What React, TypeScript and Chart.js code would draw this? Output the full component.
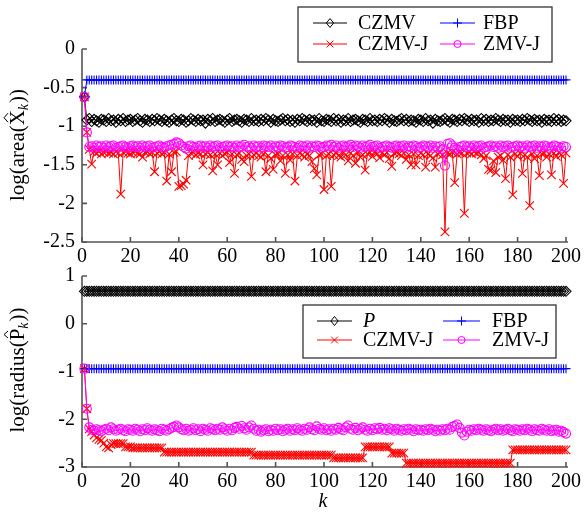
import { useEffect, useRef } from "react";
import { Chart, registerables } from "chart.js";
Chart.register(...registerables);

const FONT = '"Liberation Serif", "Times New Roman", serif';

const K = Array.from({ length: 200 }, (_, i) => i + 1);
const X_TICKS = [0, 20, 40, 60, 80, 100, 120, 140, 160, 180, 200];

// ---------- top panel: log(area(X_k)) ----------
const czmvArea = [
  -0.62, -0.92, -0.90, -0.94, -0.91, -0.93, -0.95, -0.91, -0.92, -0.94,
  -0.90, -0.93, -0.92, -0.95, -0.91, -0.93, -0.90, -0.94, -0.92, -0.91,
  -0.94, -0.92, -0.90, -0.93, -0.95, -0.91, -0.92, -0.94, -0.91, -0.93,
  -0.90, -0.92, -0.94, -0.91, -0.93, -0.95, -0.92, -0.90, -0.93, -0.94,
  -0.91, -0.92, -0.95, -0.93, -0.90, -0.92, -0.94, -0.91, -0.93, -0.92,
  -0.96, -0.91, -0.93, -0.90, -0.94, -0.92, -0.91, -0.93, -0.95, -0.92,
  -0.90, -0.94, -0.92, -0.91, -0.93, -0.95, -0.91, -0.92, -0.94, -0.90,
  -0.93, -0.92, -0.94, -0.91, -0.93, -0.90, -0.92, -0.95, -0.91, -0.93,
  -0.94, -0.92, -0.90, -0.93, -0.91, -0.94, -0.92, -0.95, -0.91, -0.93,
  -0.90, -0.92, -0.94, -0.91, -0.93, -0.92, -0.95, -0.90, -0.93, -0.94,
  -0.91, -0.92, -0.94, -0.90, -0.93, -0.91, -0.95, -0.92, -0.93, -0.90,
  -0.94, -0.92, -0.91, -0.93, -0.95, -0.91, -0.92, -0.94, -0.90, -0.93,
  -0.92, -0.94, -0.91, -0.93, -0.90, -0.92, -0.95, -0.91, -0.93, -0.94,
  -0.92, -0.90, -0.93, -0.91, -0.94, -0.92, -0.93, -0.95, -0.91, -0.92,
  -0.94, -0.90, -0.93, -0.92, -0.96, -0.91, -0.93, -0.94, -0.92, -0.90,
  -0.93, -0.95, -0.91, -0.92, -0.94, -0.91, -0.93, -0.90, -0.92, -0.94,
  -0.91, -0.93, -0.92, -0.95, -0.90, -0.93, -0.91, -0.94, -0.92, -0.93,
  -0.90, -0.92, -0.94, -0.91, -0.93, -0.92, -0.95, -0.91, -0.93, -0.92,
  -0.94, -0.91, -0.93, -0.90, -0.92, -0.94, -0.91, -0.93, -0.92, -0.95,
  -0.91, -0.93, -0.92, -0.94, -0.90, -0.93, -0.91, -0.94, -0.92, -0.93,
];

const fbpArea = [
  -0.62, -0.40, -0.40, -0.40, -0.40, -0.40, -0.40, -0.40, -0.40, -0.40,
  -0.40, -0.40, -0.40, -0.40, -0.40, -0.40, -0.40, -0.40, -0.40, -0.40,
  -0.40, -0.40, -0.40, -0.40, -0.40, -0.40, -0.40, -0.40, -0.40, -0.40,
  -0.40, -0.40, -0.40, -0.40, -0.40, -0.40, -0.40, -0.40, -0.40, -0.40,
  -0.40, -0.40, -0.40, -0.40, -0.40, -0.40, -0.40, -0.40, -0.40, -0.40,
  -0.40, -0.40, -0.40, -0.40, -0.40, -0.40, -0.40, -0.40, -0.40, -0.40,
  -0.40, -0.40, -0.40, -0.40, -0.40, -0.40, -0.40, -0.40, -0.40, -0.40,
  -0.40, -0.40, -0.40, -0.40, -0.40, -0.40, -0.40, -0.40, -0.40, -0.40,
  -0.40, -0.40, -0.40, -0.40, -0.40, -0.40, -0.40, -0.40, -0.40, -0.40,
  -0.40, -0.40, -0.40, -0.40, -0.40, -0.40, -0.40, -0.40, -0.40, -0.40,
  -0.40, -0.40, -0.40, -0.40, -0.40, -0.40, -0.40, -0.40, -0.40, -0.40,
  -0.40, -0.40, -0.40, -0.40, -0.40, -0.40, -0.40, -0.40, -0.40, -0.40,
  -0.40, -0.40, -0.40, -0.40, -0.40, -0.40, -0.40, -0.40, -0.40, -0.40,
  -0.40, -0.40, -0.40, -0.40, -0.40, -0.40, -0.40, -0.40, -0.40, -0.40,
  -0.40, -0.40, -0.40, -0.40, -0.40, -0.40, -0.40, -0.40, -0.40, -0.40,
  -0.40, -0.40, -0.40, -0.40, -0.40, -0.40, -0.40, -0.40, -0.40, -0.40,
  -0.40, -0.40, -0.40, -0.40, -0.40, -0.40, -0.40, -0.40, -0.40, -0.40,
  -0.40, -0.40, -0.40, -0.40, -0.40, -0.40, -0.40, -0.40, -0.40, -0.40,
  -0.40, -0.40, -0.40, -0.40, -0.40, -0.40, -0.40, -0.40, -0.40, -0.40,
  -0.40, -0.40, -0.40, -0.40, -0.40, -0.40, -0.40, -0.40, -0.40, -0.40,
];

const czmvJArea = [
  -0.62, -1.08, -1.30, -1.49, -1.33, -1.35, -1.33, -1.36, -1.34, -1.33,
  -1.35, -1.34, -1.36, -1.33, -1.35, -1.88, -1.34, -1.33, -1.35, -1.36,
  -1.34, -1.33, -1.35, -1.36, -1.40, -1.34, -1.33, -1.36, -1.34, -1.59,
  -1.35, -1.33, -1.36, -1.34, -1.71, -1.36, -1.59, -1.34, -1.33, -1.78,
  -1.77, -1.75, -1.70, -1.38, -1.35, -1.34, -1.37, -1.35, -1.36, -1.50,
  -1.36, -1.34, -1.37, -1.58, -1.36, -1.50, -1.35, -1.38, -1.36, -1.34,
  -1.47, -1.36, -1.61, -1.37, -1.35, -1.43, -1.46, -1.38, -1.36, -1.65,
  -1.37, -1.35, -1.38, -1.40, -1.36, -1.59, -1.38, -1.42, -1.56, -1.37,
  -1.36, -1.45, -1.38, -1.61, -1.37, -1.44, -1.36, -1.71, -1.38, -1.35,
  -1.37, -1.40, -1.36, -1.38, -1.46, -1.55, -1.63, -1.37, -1.36, -1.82,
  -1.38, -1.36, -1.78, -1.37, -1.35, -1.38, -1.40, -1.34, -1.37, -1.45,
  -1.35, -1.38, -1.48, -1.34, -1.40, -1.37, -1.57, -1.36, -1.34, -1.39,
  -1.33, -1.36, -1.41, -1.35, -1.37, -1.34, -1.42, -1.52, -1.35, -1.34,
  -1.36, -1.38, -1.35, -1.43, -1.37, -1.50, -1.36, -1.50, -1.38, -1.35,
  -1.37, -1.53, -1.36, -1.38, -1.41, -1.53, -1.36, -1.34, -1.37, -2.37,
  -1.35, -1.36, -1.34, -1.73, -1.36, -1.34, -1.35, -2.13, -1.35, -1.34,
  -1.36, -1.33, -1.35, -1.34, -1.37, -1.42, -1.38, -1.56, -1.57, -1.45,
  -1.60, -1.40, -1.38, -1.44, -1.68, -1.37, -1.40, -1.89, -1.36, -1.39,
  -1.35, -1.61, -1.37, -1.40, -2.03, -1.36, -1.42, -1.38, -1.64, -1.36,
  -1.35, -1.40, -1.36, -1.63, -1.35, -1.39, -1.34, -1.37, -1.74, -1.35,
];

const zmvJArea = [
  -0.62, -1.08, -1.27, -1.26, -1.28, -1.25, -1.27, -1.26, -1.28, -1.25,
  -1.27, -1.26, -1.25, -1.28, -1.27, -1.26, -1.25, -1.27, -1.28, -1.26,
  -1.25, -1.27, -1.26, -1.28, -1.25, -1.27, -1.26, -1.25, -1.28, -1.27,
  -1.26, -1.25, -1.27, -1.28, -1.26, -1.25, -1.24, -1.23, -1.21, -1.22,
  -1.25, -1.27, -1.29, -1.26, -1.25, -1.27, -1.28, -1.26, -1.25, -1.27,
  -1.26, -1.28, -1.25, -1.27, -1.26, -1.25, -1.28, -1.27, -1.26, -1.25,
  -1.27, -1.26, -1.28, -1.25, -1.27, -1.26, -1.24, -1.27, -1.26, -1.28,
  -1.25, -1.27, -1.26, -1.28, -1.25, -1.26, -1.27, -1.25, -1.28, -1.26,
  -1.27, -1.25, -1.26, -1.28, -1.27, -1.25, -1.26, -1.27, -1.28, -1.25,
  -1.26, -1.27, -1.25, -1.28, -1.26, -1.27, -1.25, -1.26, -1.28, -1.27,
  -1.25, -1.26, -1.24, -1.27, -1.25, -1.28, -1.26, -1.25, -1.27, -1.26,
  -1.24, -1.27, -1.25, -1.26, -1.28, -1.25, -1.27, -1.26, -1.24, -1.27,
  -1.26, -1.25, -1.28, -1.27, -1.26, -1.25, -1.27, -1.28, -1.26, -1.25,
  -1.27, -1.26, -1.25, -1.28, -1.26, -1.27, -1.25, -1.26, -1.28, -1.27,
  -1.25, -1.26, -1.27, -1.25, -1.28, -1.26, -1.27, -1.26, -1.30, -1.51,
  -1.23, -1.22, -1.25, -1.28, -1.30, -1.27, -1.26, -1.25, -1.27, -1.26,
  -1.28, -1.25, -1.27, -1.26, -1.25, -1.28, -1.27, -1.26, -1.25, -1.27,
  -1.26, -1.28, -1.25, -1.27, -1.26, -1.25, -1.28, -1.27, -1.26, -1.25,
  -1.27, -1.26, -1.28, -1.25, -1.27, -1.26, -1.25, -1.28, -1.26, -1.27,
  -1.25, -1.26, -1.28, -1.27, -1.25, -1.26, -1.27, -1.28, -1.26, -1.27,
];

// ---------- bottom panel: log(radius(P_k)) ----------
const pRadius = [
  0.68, 0.68, 0.68, 0.68, 0.68, 0.68, 0.68, 0.68, 0.68, 0.68,
  0.68, 0.68, 0.68, 0.68, 0.68, 0.68, 0.68, 0.68, 0.68, 0.68,
  0.68, 0.68, 0.68, 0.68, 0.68, 0.68, 0.68, 0.68, 0.68, 0.68,
  0.68, 0.68, 0.68, 0.68, 0.68, 0.68, 0.68, 0.68, 0.68, 0.68,
  0.68, 0.68, 0.68, 0.68, 0.68, 0.68, 0.68, 0.68, 0.68, 0.68,
  0.68, 0.68, 0.68, 0.68, 0.68, 0.68, 0.68, 0.68, 0.68, 0.68,
  0.68, 0.68, 0.68, 0.68, 0.68, 0.68, 0.68, 0.68, 0.68, 0.68,
  0.68, 0.68, 0.68, 0.68, 0.68, 0.68, 0.68, 0.68, 0.68, 0.68,
  0.68, 0.68, 0.68, 0.68, 0.68, 0.68, 0.68, 0.68, 0.68, 0.68,
  0.68, 0.68, 0.68, 0.68, 0.68, 0.68, 0.68, 0.68, 0.68, 0.68,
  0.68, 0.68, 0.68, 0.68, 0.68, 0.68, 0.68, 0.68, 0.68, 0.68,
  0.68, 0.68, 0.68, 0.68, 0.68, 0.68, 0.68, 0.68, 0.68, 0.68,
  0.68, 0.68, 0.68, 0.68, 0.68, 0.68, 0.68, 0.68, 0.68, 0.68,
  0.68, 0.68, 0.68, 0.68, 0.68, 0.68, 0.68, 0.68, 0.68, 0.68,
  0.68, 0.68, 0.68, 0.68, 0.68, 0.68, 0.68, 0.68, 0.68, 0.68,
  0.68, 0.68, 0.68, 0.68, 0.68, 0.68, 0.68, 0.68, 0.68, 0.68,
  0.68, 0.68, 0.68, 0.68, 0.68, 0.68, 0.68, 0.68, 0.68, 0.68,
  0.68, 0.68, 0.68, 0.68, 0.68, 0.68, 0.68, 0.68, 0.68, 0.68,
  0.68, 0.68, 0.68, 0.68, 0.68, 0.68, 0.68, 0.68, 0.68, 0.68,
  0.68, 0.68, 0.68, 0.68, 0.68, 0.68, 0.68, 0.68, 0.68, 0.68,
];

const fbpRadius = [
  -0.94, -0.94, -0.94, -0.94, -0.94, -0.94, -0.94, -0.94, -0.94, -0.94,
  -0.94, -0.94, -0.94, -0.94, -0.94, -0.94, -0.94, -0.94, -0.94, -0.94,
  -0.94, -0.94, -0.94, -0.94, -0.94, -0.94, -0.94, -0.94, -0.94, -0.94,
  -0.94, -0.94, -0.94, -0.94, -0.94, -0.94, -0.94, -0.94, -0.94, -0.94,
  -0.94, -0.94, -0.94, -0.94, -0.94, -0.94, -0.94, -0.94, -0.94, -0.94,
  -0.94, -0.94, -0.94, -0.94, -0.94, -0.94, -0.94, -0.94, -0.94, -0.94,
  -0.94, -0.94, -0.94, -0.94, -0.94, -0.94, -0.94, -0.94, -0.94, -0.94,
  -0.94, -0.94, -0.94, -0.94, -0.94, -0.94, -0.94, -0.94, -0.94, -0.94,
  -0.94, -0.94, -0.94, -0.94, -0.94, -0.94, -0.94, -0.94, -0.94, -0.94,
  -0.94, -0.94, -0.94, -0.94, -0.94, -0.94, -0.94, -0.94, -0.94, -0.94,
  -0.94, -0.94, -0.94, -0.94, -0.94, -0.94, -0.94, -0.94, -0.94, -0.94,
  -0.94, -0.94, -0.94, -0.94, -0.94, -0.94, -0.94, -0.94, -0.94, -0.94,
  -0.94, -0.94, -0.94, -0.94, -0.94, -0.94, -0.94, -0.94, -0.94, -0.94,
  -0.94, -0.94, -0.94, -0.94, -0.94, -0.94, -0.94, -0.94, -0.94, -0.94,
  -0.94, -0.94, -0.94, -0.94, -0.94, -0.94, -0.94, -0.94, -0.94, -0.94,
  -0.94, -0.94, -0.94, -0.94, -0.94, -0.94, -0.94, -0.94, -0.94, -0.94,
  -0.94, -0.94, -0.94, -0.94, -0.94, -0.94, -0.94, -0.94, -0.94, -0.94,
  -0.94, -0.94, -0.94, -0.94, -0.94, -0.94, -0.94, -0.94, -0.94, -0.94,
  -0.94, -0.94, -0.94, -0.94, -0.94, -0.94, -0.94, -0.94, -0.94, -0.94,
  -0.94, -0.94, -0.94, -0.94, -0.94, -0.94, -0.94, -0.94, -0.94, -0.94,
];

const czmvJRadius = [
  -0.94, -1.78, -2.20, -2.26, -2.33, -2.39, -2.42, -2.44, -2.50, -2.58,
  -2.60, -2.53, -2.51, -2.51, -2.51, -2.51, -2.51, -2.58, -2.58, -2.58,
  -2.60, -2.60, -2.60, -2.60, -2.60, -2.60, -2.60, -2.60, -2.60, -2.60,
  -2.60, -2.60, -2.60, -2.69, -2.69, -2.69, -2.69, -2.69, -2.69, -2.69,
  -2.69, -2.69, -2.69, -2.69, -2.69, -2.69, -2.69, -2.69, -2.69, -2.69,
  -2.69, -2.69, -2.69, -2.69, -2.69, -2.69, -2.69, -2.69, -2.69, -2.69,
  -2.69, -2.69, -2.69, -2.69, -2.69, -2.69, -2.69, -2.69, -2.69, -2.69,
  -2.75, -2.75, -2.75, -2.75, -2.75, -2.75, -2.75, -2.75, -2.75, -2.75,
  -2.75, -2.75, -2.75, -2.75, -2.75, -2.75, -2.75, -2.75, -2.75, -2.75,
  -2.75, -2.75, -2.75, -2.75, -2.75, -2.75, -2.75, -2.75, -2.75, -2.75,
  -2.75, -2.75, -2.75, -2.81, -2.81, -2.81, -2.81, -2.81, -2.81, -2.81,
  -2.81, -2.81, -2.81, -2.81, -2.81, -2.81, -2.58, -2.58, -2.58, -2.58,
  -2.58, -2.58, -2.58, -2.58, -2.58, -2.58, -2.58, -2.71, -2.71, -2.71,
  -2.71, -2.71, -2.71, -2.92, -2.92, -2.92, -2.92, -2.92, -2.92, -2.92,
  -2.92, -2.92, -2.92, -2.92, -2.92, -2.92, -2.92, -2.92, -2.92, -2.92,
  -2.92, -2.92, -2.92, -2.92, -2.92, -2.92, -2.92, -2.92, -2.92, -2.92,
  -2.92, -2.92, -2.92, -2.92, -2.92, -2.92, -2.92, -2.92, -2.92, -2.92,
  -2.92, -2.92, -2.92, -2.92, -2.92, -2.92, -2.92, -2.64, -2.64, -2.64,
  -2.64, -2.64, -2.64, -2.64, -2.64, -2.64, -2.64, -2.64, -2.64, -2.64,
  -2.64, -2.64, -2.64, -2.64, -2.64, -2.64, -2.64, -2.64, -2.64, -2.64,
];

const zmvJRadius = [
  -0.94, -1.78, -2.17, -2.22, -2.24, -2.21, -2.23, -2.25, -2.22, -2.20,
  -2.23, -2.17, -2.21, -2.24, -2.22, -2.20, -2.23, -2.25, -2.21, -2.22,
  -2.24, -2.20, -2.22, -2.25, -2.21, -2.23, -2.19, -2.22, -2.24, -2.21,
  -2.23, -2.25, -2.20, -2.22, -2.24, -2.21, -2.18, -2.16, -2.13, -2.17,
  -2.21, -2.23, -2.20, -2.24, -2.22, -2.19, -2.23, -2.21, -2.25, -2.20,
  -2.22, -2.24, -2.19, -2.21, -2.23, -2.20, -2.22, -2.17, -2.21, -2.24,
  -2.20, -2.23, -2.18, -2.16, -2.20, -2.14, -2.19, -2.22, -2.17, -2.13,
  -2.20, -2.24, -2.22, -2.26, -2.23, -2.21, -2.25, -2.22, -2.24, -2.20,
  -2.23, -2.21, -2.25, -2.22, -2.20, -2.24, -2.21, -2.23, -2.19, -2.22,
  -2.24, -2.20, -2.22, -2.17, -2.21, -2.23, -2.15, -2.20, -2.22, -2.19,
  -2.23, -2.21, -2.24, -2.20, -2.22, -2.18, -2.21, -2.23, -2.17, -2.13,
  -2.20, -2.22, -2.18, -2.23, -2.20, -2.17, -2.22, -2.24, -2.20, -2.23,
  -2.19, -2.21, -2.18, -2.22, -2.20, -2.23, -2.19, -2.21, -2.24, -2.20,
  -2.22, -2.24, -2.21, -2.23, -2.20, -2.22, -2.25, -2.21, -2.23, -2.22,
  -2.24, -2.21, -2.23, -2.20, -2.22, -2.25, -2.22, -2.24, -2.21, -2.23,
  -2.20, -2.22, -2.16, -2.14, -2.11, -2.18, -2.28, -2.34, -2.26, -2.22,
  -2.24, -2.21, -2.23, -2.20, -2.22, -2.24, -2.21, -2.23, -2.25, -2.22,
  -2.20, -2.23, -2.21, -2.24, -2.22, -2.20, -2.23, -2.25, -2.21, -2.22,
  -2.24, -2.21, -2.23, -2.20, -2.22, -2.25, -2.21, -2.23, -2.24, -2.20,
  -2.22, -2.24, -2.21, -2.25, -2.23, -2.22, -2.26, -2.24, -2.27, -2.30,
];

const TOP_Y_TICKS = [0, -0.5, -1, -1.5, -2, -2.5];
const BOT_Y_TICKS = [1, 0, -1, -2, -3];

type Marker = "diamond" | "plus" | "x" | "circle";

function drawMarker(ctx: CanvasRenderingContext2D, m: Marker, x: number, y: number, r: number) {
  ctx.beginPath();
  if (m === "diamond") {
    ctx.moveTo(x, y - r);
    ctx.lineTo(x + r * 0.8, y);
    ctx.lineTo(x, y + r);
    ctx.lineTo(x - r * 0.8, y);
    ctx.closePath();
  } else if (m === "plus") {
    ctx.moveTo(x - r, y);
    ctx.lineTo(x + r, y);
    ctx.moveTo(x, y - r);
    ctx.lineTo(x, y + r);
  } else if (m === "x") {
    const d = r * 0.75;
    ctx.moveTo(x - d, y - d);
    ctx.lineTo(x + d, y + d);
    ctx.moveTo(x + d, y - d);
    ctx.lineTo(x - d, y + d);
  } else {
    ctx.arc(x, y, r, 0, Math.PI * 2);
  }
  ctx.stroke();
}

type LegendItem = { label: string; italic?: boolean; color: string; marker: Marker; col: number; row: number };

type PanelCfg = {
  box: { x: number; y: number; w: number; h: number };
  colLine: number[][];
  colText: number[];
  rowY: number[];
  items: LegendItem[];
  titleMain: string;
  titleVar: string;
  titleCenterY: number;
  yTicks: number[];
  showK: boolean;
};

function makePlugin(cfg: PanelCfg) {
  return {
    id: "decor",
    beforeDatasetsDraw(chart: any) {
      const ctx = chart.ctx as CanvasRenderingContext2D;
      const { left, right, top, bottom } = chart.chartArea;
      const xs = chart.scales.x;
      const ys = chart.scales.y;
      ctx.save();
      ctx.strokeStyle = "#555";
      ctx.lineWidth = 1.6;
      ctx.beginPath();
      ctx.moveTo(left, top);
      ctx.lineTo(left, bottom);
      ctx.lineTo(right + 2, bottom);
      ctx.stroke();
      ctx.beginPath();
      for (const v of X_TICKS) {
        const px = xs.getPixelForValue(v);
        ctx.moveTo(px, bottom);
        ctx.lineTo(px, bottom - 5);
      }
      for (const v of cfg.yTicks) {
        const py = ys.getPixelForValue(v);
        ctx.moveTo(left, py);
        ctx.lineTo(left + 5, py);
      }
      ctx.stroke();
      ctx.restore();
    },
    afterDraw(chart: any) {
      const ctx = chart.ctx as CanvasRenderingContext2D;
      ctx.save();
      const b = cfg.box;
      ctx.fillStyle = "#fff";
      ctx.fillRect(b.x, b.y, b.w, b.h);
      ctx.strokeStyle = "#333";
      ctx.lineWidth = 1.3;
      ctx.strokeRect(b.x, b.y, b.w, b.h);
      ctx.textBaseline = "middle";
      ctx.textAlign = "left";
      for (const it of cfg.items) {
        const y = cfg.rowY[it.row];
        const [x0, x1] = cfg.colLine[it.col];
        ctx.strokeStyle = it.color;
        ctx.lineWidth = 1;
        ctx.beginPath();
        ctx.moveTo(x0, y);
        ctx.lineTo(x1, y);
        ctx.stroke();
        drawMarker(ctx, it.marker, (x0 + x1) / 2, y, it.marker === "circle" ? 3.5 : 4.5);
        ctx.fillStyle = "#000";
        ctx.font = `${it.italic ? "italic " : ""}20px ${FONT}`;
        ctx.fillText(it.label, cfg.colText[it.col], y + 1);
      }
      // y title (rotated)
      ctx.translate(18, cfg.titleCenterY);
      ctx.rotate(-Math.PI / 2);
      ctx.textBaseline = "alphabetic";
      ctx.fillStyle = "#000";
      const big = `21px ${FONT}`;
      const sub = `italic 14px ${FONT}`;
      ctx.font = big;
      const w1 = ctx.measureText(cfg.titleMain).width;
      const w2 = ctx.measureText(cfg.titleVar).width;
      const w4 = ctx.measureText("))").width;
      ctx.font = sub;
      const w3 = ctx.measureText("k").width;
      const total = w1 + w2 + w3 + 1 + w4;
      let x = -total / 2;
      const base = 6;
      ctx.font = big;
      ctx.fillText(cfg.titleMain, x, base);
      x += w1;
      ctx.fillText(cfg.titleVar, x, base);
      ctx.strokeStyle = "#000";
      ctx.lineWidth = 1;
      ctx.beginPath();
      ctx.moveTo(x + w2 * 0.2, base - 16);
      ctx.lineTo(x + w2 * 0.5, base - 20);
      ctx.lineTo(x + w2 * 0.8, base - 16);
      ctx.stroke();
      x += w2;
      ctx.font = sub;
      ctx.fillText("k", x, base + 4);
      x += w3 + 1;
      ctx.font = big;
      ctx.fillText("))", x, base);
      ctx.restore();
      if (cfg.showK) {
        ctx.save();
        ctx.font = `italic 20px ${FONT}`;
        ctx.fillStyle = "#000";
        ctx.textAlign = "center";
        ctx.textBaseline = "middle";
        ctx.fillText("k", 323, 502);
        ctx.restore();
      }
    },
  };
}

function ds(label: string, values: number[], color: string, style: string, radius: number) {
  return {
    label,
    data: K.map((k, i) => ({ x: k, y: values[i] })),
    borderColor: color,
    backgroundColor: "transparent",
    borderWidth: 1,
    pointStyle: style,
    pointRadius: radius,
    pointBorderColor: color,
    pointBackgroundColor: "transparent",
    pointBorderWidth: 1.1,
    tension: 0,
    clip: false as any,
  };
}

function buildChart(
  canvas: HTMLCanvasElement,
  datasets: any[],
  yMin: number,
  yMax: number,
  yStep: number,
  padTop: number,
  padBottom: number,
  plugin: any
) {
  return new Chart(canvas, {
    type: "line",
    data: { datasets },
    options: {
      responsive: false,
      animation: false,
      devicePixelRatio: 1,
      layout: { padding: { left: 0, right: 19, top: padTop, bottom: padBottom } },
      plugins: { legend: { display: false }, tooltip: { enabled: false } },
      scales: {
        x: {
          type: "linear",
          min: 0,
          max: 200,
          ticks: {
            stepSize: 20,
            autoSkip: false,
            maxRotation: 0,
            color: "#000",
            padding: 3,
            font: { family: FONT, size: 20 },
          },
          grid: { display: false, drawTicks: false },
          border: { display: false },
          afterFit: (s: any) => {
            s.height = 22;
          },
        },
        y: {
          min: yMin,
          max: yMax,
          ticks: {
            stepSize: yStep,
            color: "#000",
            padding: 7,
            font: { family: FONT, size: 20 },
            callback: (v: any) => String(Math.round(v * 10) / 10),
          },
          grid: { display: false, drawTicks: false },
          border: { display: false },
          afterFit: (s: any) => {
            s.width = 82;
          },
        },
      },
    } as any,
    plugins: [plugin],
  });
}

export default function App() {
  const topRef = useRef<HTMLCanvasElement>(null);
  const botRef = useRef<HTMLCanvasElement>(null);

  useEffect(() => {
    const topPlugin = makePlugin({
      box: { x: 298, y: 7, w: 254, h: 55 },
      colLine: [
        [313, 347],
        [440, 475],
      ],
      colText: [358, 483],
      rowY: [23, 44],
      items: [
        { label: "CZMV", color: "#000", marker: "diamond", col: 0, row: 0 },
        { label: "FBP", color: "#0000ff", marker: "plus", col: 1, row: 0 },
        { label: "CZMV-J", color: "#ff0000", marker: "x", col: 0, row: 1 },
        { label: "ZMV-J", color: "#ff00ff", marker: "circle", col: 1, row: 1 },
      ],
      titleMain: "log(area(",
      titleVar: "X",
      titleCenterY: 145,
      yTicks: TOP_Y_TICKS,
      showK: false,
    });
    const botPlugin = makePlugin({
      box: { x: 303, y: 305, w: 253, h: 53 },
      colLine: [
        [317, 352],
        [443, 480],
      ],
      colText: [363, 492],
      rowY: [321, 340],
      items: [
        { label: "P", italic: true, color: "#000", marker: "diamond", col: 0, row: 0 },
        { label: "FBP", color: "#0000ff", marker: "plus", col: 1, row: 0 },
        { label: "CZMV-J", color: "#ff0000", marker: "x", col: 0, row: 1 },
        { label: "ZMV-J", color: "#ff00ff", marker: "circle", col: 1, row: 1 },
      ],
      titleMain: "log(radius(",
      titleVar: "P",
      titleCenterY: 370,
      yTicks: BOT_Y_TICKS,
      showK: true,
    });

    const top = buildChart(
      topRef.current!,
      [
        ds("ZMV-J", zmvJArea, "#ff00ff", "circle", 4.5),
        ds("CZMV-J", czmvJArea, "#ff0000", "crossRot", 6),
        ds("FBP", fbpArea, "#0000ff", "cross", 4.5),
        ds("CZMV", czmvArea, "#000000", "rectRot", 5),
      ],
      -2.5,
      0,
      0.5,
      49,
      513 - 242 - 22,
      topPlugin
    );
    const bot = buildChart(
      botRef.current!,
      [
        ds("ZMV-J", zmvJRadius, "#ff00ff", "circle", 4.5),
        ds("CZMV-J", czmvJRadius, "#ff0000", "crossRot", 6),
        ds("FBP", fbpRadius, "#0000ff", "cross", 4.5),
        ds("P", pRadius, "#000000", "rectRot", 5),
      ],
      -3,
      1,
      1,
      276,
      513 - 467 - 22,
      botPlugin
    );
    return () => {
      top.destroy();
      bot.destroy();
    };
  }, []);

  return (
    <div style={{ position: "fixed", left: 0, top: 0, width: 585, height: 513, background: "#fff" }}>
      <canvas ref={topRef} width={585} height={513} style={{ position: "absolute", left: 0, top: 0 }} />
      <canvas ref={botRef} width={585} height={513} style={{ position: "absolute", left: 0, top: 0 }} />
    </div>
  );
}
